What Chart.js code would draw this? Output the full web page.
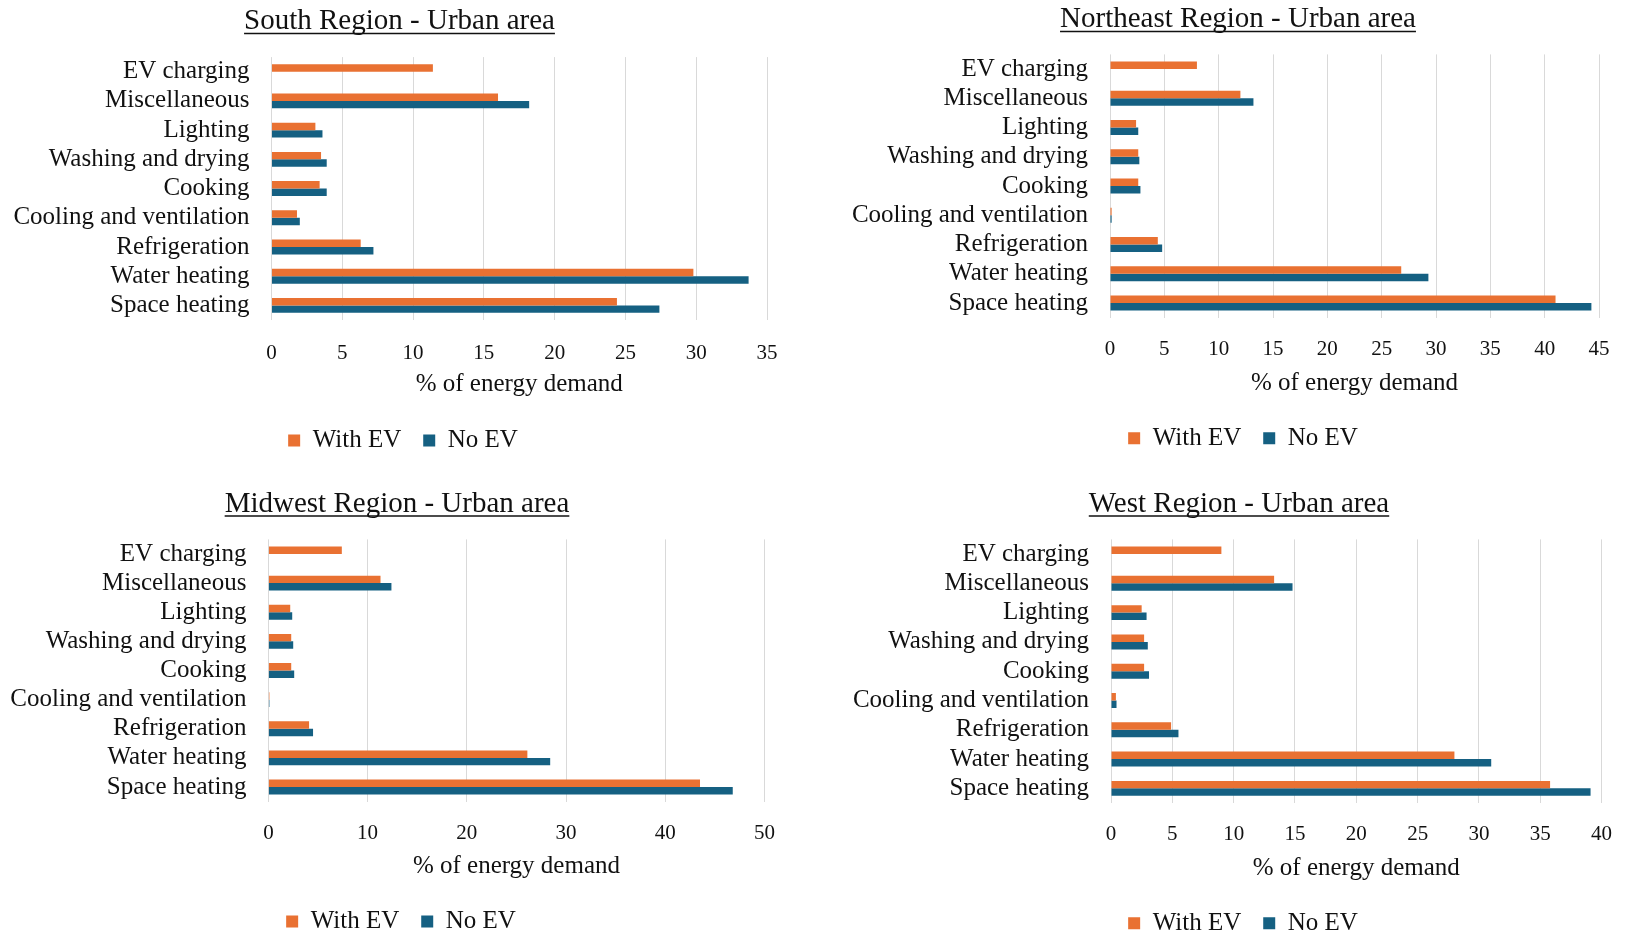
<!DOCTYPE html>
<html>
<head>
<meta charset="utf-8">
<title>Urban area energy demand by end use</title>
<script src="https://cdn.jsdelivr.net/npm/chart.js@4.4.1/dist/chart.umd.min.js"></script>
<style>
  html, body { margin: 0; padding: 0; background: #fff; overflow: hidden; }
  #page { position: relative; width: 1631px; height: 934px; overflow: hidden; }
  .panel { position: absolute; }
</style>
</head>
<body>
<div id="page">
  <div class="panel" style="left:0px;top:0px"><canvas id="south" width="815" height="467"></canvas></div>
  <div class="panel" style="left:815px;top:0px"><canvas id="northeast" width="816" height="467"></canvas></div>
  <div class="panel" style="left:0px;top:467px"><canvas id="midwest" width="815" height="480"></canvas></div>
  <div class="panel" style="left:815px;top:467px"><canvas id="west" width="816" height="480"></canvas></div>
</div>
<script>
// end uses, top to bottom as in the figure
const categories = ["EV charging", "Miscellaneous", "Lighting", "Washing and drying", "Cooking",
  "Cooling and ventilation", "Refrigeration", "Water heating", "Space heating"];
const seriesNames = ["With EV", "No EV"];
const axisTitle = "% of energy demand";

// % of energy demand
const southWithEV = [11.4, 16.0, 3.1, 3.5, 3.4, 1.8, 6.3, 29.8, 24.4];
const southNoEV = [0, 18.2, 3.6, 3.9, 3.9, 2.0, 7.2, 33.7, 27.4];
const northeastWithEV = [8.0, 12.0, 2.4, 2.6, 2.6, 0.15, 4.4, 26.8, 41.0];
const northeastNoEV = [0, 13.2, 2.6, 2.7, 2.8, 0.15, 4.8, 29.3, 44.3];
const midwestWithEV = [7.4, 11.3, 2.2, 2.3, 2.3, 0.1, 4.1, 26.1, 43.5];
const midwestNoEV = [0, 12.4, 2.4, 2.5, 2.6, 0.1, 4.5, 28.4, 46.8];
const westWithEV = [9.0, 13.3, 2.5, 2.7, 2.7, 0.4, 4.9, 28.0, 35.8];
const westNoEV = [0, 14.8, 2.9, 3.0, 3.1, 0.45, 5.5, 31.0, 39.1];

const orange = "#E97132";
const blue = "#156082";
const textColor = "#111111";
const serif = "'Liberation Serif', 'Times New Roman', serif";

const titleSize = 29, tickSize = 21, labelSize = 25, legendSize = 25, legendPad = 22;

Chart.defaults.font.family = serif;
Chart.defaults.color = textColor;

// centres the title and legend where the figure has them, and underlines the title
const panelDecor = {
  id: "panelDecor",
  afterLayout(chart, args, opts) {
    const move = (box, cx) => {
      if (!box) return;
      const dx = cx - (box.left + box.right) / 2;
      box.left += dx;
      box.right += dx;
    };
    move(chart.titleBlock, opts.titleX);
    move(chart.legend, opts.legendX);
  },
  afterDraw(chart) {
    const t = chart.titleBlock;
    if (!t) return;
    const topts = chart.options.plugins.title;
    const ctx = chart.ctx;
    ctx.save();
    ctx.font = titleSize + "px " + serif;
    const w = ctx.measureText(topts.text).width;
    const cx = (t.left + t.right) / 2;
    const y = t.top + topts.padding.top + titleSize * 1.2 / 2 + 12;
    ctx.strokeStyle = textColor;
    ctx.lineWidth = 1.5;
    ctx.beginPath();
    ctx.moveTo(cx - w / 2, y);
    ctx.lineTo(cx + w / 2, y);
    ctx.stroke();
    ctx.restore();
  }
};

// turns target page positions (px) into paddings for one panel
function layoutFor(p) {
  const lift = 1.5;
  const L = {};
  L.padTop = p.titleY + 2 - p.top - titleSize * 1.2 / 2;
  L.headGap = p.plotTop - p.top - L.padTop - titleSize * 1.2;
  L.tickPad = p.ticksY + lift - p.plotBottom - tickSize * 1.2 / 2;
  L.titleTop = p.axisY + lift - (p.plotBottom + L.tickPad + tickSize * 1.2) - labelSize * 1.2 / 2;
  const axisBottom = p.legendY + lift - legendPad - legendSize / 2;
  L.titleBottom = axisBottom - (p.axisY + lift) - labelSize * 1.2 / 2;
  L.xHeight = axisBottom - p.plotBottom;
  L.padBottom = p.top + p.height - (axisBottom + legendSize + legendPad + 10);
  L.yWidth = p.plotLeft - p.left;
  L.padRight = p.left + p.width - p.plotRight;
  L.titleX = p.titleX - p.left;
  L.legendX = p.legendX - p.left;
  return L;
}

function makePanel(id, title, withEV, noEV, xMax, xStep, p) {
  const L = layoutFor(p);
  return new Chart(document.getElementById(id), {
    type: "bar",
    data: {
      labels: categories,
      datasets: [
        { label: seriesNames[0], data: withEV, backgroundColor: orange, borderWidth: 0 },
        { label: seriesNames[1], data: noEV, backgroundColor: blue, borderWidth: 0 }
      ]
    },
    options: {
      indexAxis: "y",
      responsive: false,
      animation: false,
      layout: { padding: { left: 0, right: L.padRight, top: L.padTop, bottom: L.padBottom } },
      datasets: { bar: { categoryPercentage: 0.51, barPercentage: 1 } },
      scales: {
        x: {
          min: 0,
          max: xMax,
          ticks: { stepSize: xStep, padding: L.tickPad, font: { size: tickSize }, color: textColor },
          grid: { color: "#d9d9d9", lineWidth: 1, drawTicks: false },
          border: { display: false },
          title: {
            display: true,
            text: axisTitle,
            font: { size: labelSize },
            color: textColor,
            padding: { top: L.titleTop, bottom: L.titleBottom }
          },
          afterFit: (s) => { s.height = L.xHeight; }
        },
        y: {
          grid: { display: false, drawTicks: false },
          border: { display: false },
          ticks: { padding: 22, font: { size: labelSize }, color: textColor, autoSkip: false },
          afterFit: (s) => { s.width = L.yWidth; }
        }
      },
      plugins: {
        title: {
          display: true,
          text: title,
          font: { size: titleSize, weight: "normal" },
          color: textColor,
          padding: { top: 0, bottom: L.headGap }
        },
        legend: {
          position: "bottom",
          labels: { boxWidth: 12, boxHeight: 12, padding: legendPad, font: { size: legendSize }, color: textColor }
        },
        tooltip: { enabled: false },
        panelDecor: { titleX: L.titleX, legendX: L.legendX }
      }
    },
    plugins: [panelDecor]
  });
}

makePanel("south", "South Region - Urban area", southWithEV, southNoEV, 35, 5,
  { left: 0, top: 0, width: 815, height: 467, plotLeft: 271.5, plotRight: 767, titleX: 399.5, legendX: 403,
    titleY: 19.5, plotTop: 57.1, plotBottom: 320, ticksY: 351.5, axisY: 383, legendY: 439 });
makePanel("northeast", "Northeast Region - Urban area", northeastWithEV, northeastNoEV, 45, 5,
  { left: 815, top: 0, width: 816, height: 467, plotLeft: 1110, plotRight: 1599, titleX: 1238, legendX: 1243,
    titleY: 17.5, plotTop: 54.4, plotBottom: 317.6, ticksY: 348, axisY: 381.7, legendY: 436.7 });
makePanel("midwest", "Midwest Region - Urban area", midwestWithEV, midwestNoEV, 50, 10,
  { left: 0, top: 467, width: 815, height: 480, plotLeft: 268.4, plotRight: 764.5, titleX: 397, legendX: 401,
    titleY: 501.9, plotTop: 539.4, plotBottom: 801.6, ticksY: 831.7, axisY: 865, legendY: 920 });
makePanel("west", "West Region - Urban area", westWithEV, westNoEV, 40, 5,
  { left: 815, top: 467, width: 816, height: 480, plotLeft: 1111, plotRight: 1605, titleX: 1239, legendX: 1243,
    titleY: 501.9, plotTop: 539.4, plotBottom: 803, ticksY: 833, axisY: 866.7, legendY: 921.7 });
</script>
</body>
</html>
